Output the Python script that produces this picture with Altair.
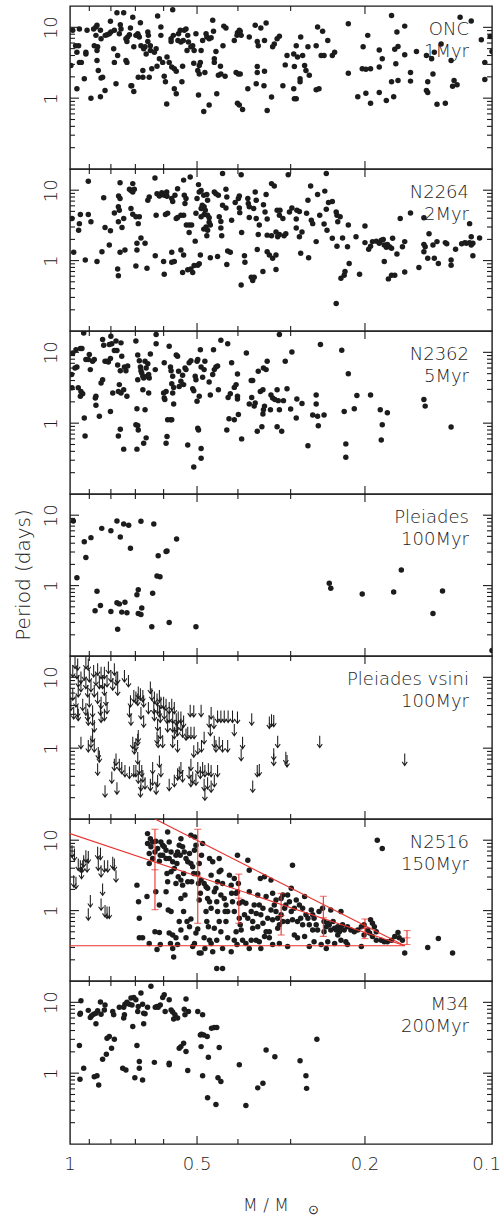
import altair as alt
import pandas as pd

# Rotation period (days) against stellar mass (solar masses), one list per cluster.
onc = [
    (0.995, 2.89), (0.985, 9.1), (0.95, 9.5), (0.97, 5.5), (0.954, 5.5), (0.963, 4.45), (0.95, 3.2), (0.94, 3.2),
    (0.963, 1.36), (0.925, 1.88), (0.917, 4.45), (0.917, 4.2), (0.911, 9.1), (0.892, 1.0), (0.879, 9.5), (0.876, 5.5),
    (0.868, 10.1), (0.868, 7.7), (0.863, 10.7), (0.86, 5.3), (0.863, 4.7), (0.863, 3.4), (0.857, 2.45), (0.847, 9.1),
    (0.844, 6.9), (0.844, 1.92), (0.837, 1.98), (0.847, 1.05), (0.826, 1.28), (0.825, 7.7), (0.817, 7.85), (0.807, 8.1),
    (0.802, 12.2), (0.8, 8.6), (0.785, 9.1), (0.788, 4.97), (0.785, 3.2), (0.778, 1.6), (0.774, 16.1), (0.771, 4.0),
    (0.764, 8.1), (0.76, 10.9), (0.757, 9.5), (0.746, 16.1), (0.737, 6.9), (0.737, 3.4), (0.733, 3.2), (0.733, 6.3),
    (0.73, 7.3), (0.723, 7.85), (0.719, 9.8), (0.717, 1.5), (0.714, 1.5), (0.71, 13.9), (0.706, 1.24), (0.706, 5.3),
    (0.698, 7.7), (0.691, 8.1), (0.689, 7.7), (0.685, 7.3), (0.689, 1.98), (0.681, 11.6), (0.679, 5.5), (0.672, 2.45),
    (0.672, 1.98), (0.669, 4.97), (0.664, 5.3), (0.66, 4.2), (0.654, 8.6), (0.652, 7.7), (0.654, 6.3), (0.649, 1.98),
    (0.645, 5.5), (0.645, 4.7), (0.64, 2.6), (0.631, 4.45), (0.625, 4.97), (0.622, 2.83), (0.62, 14.4), (0.614, 3.6),
    (0.609, 10.1), (0.609, 7.7), (0.603, 3.2), (0.598, 2.04), (0.594, 1.7), (0.59, 0.83), (0.589, 3.8), (0.582, 3.2),
    (0.576, 6.9), (0.576, 6.3), (0.574, 2.75), (0.571, 17.7), (0.569, 7.7), (0.566, 2.6), (0.566, 1.36), (0.56, 1.15),
    (0.56, 2.4), (0.555, 6.5), (0.553, 8.1), (0.548, 9.1), (0.546, 6.2), (0.541, 2.83), (0.543, 1.7), (0.539, 6.5),
    (0.536, 9.1), (0.531, 9.5), (0.526, 7.7), (0.524, 6.2), (0.528, 4.7), (0.517, 5.3), (0.512, 5.5), (0.509, 3.1),
    (0.508, 4.7), (0.503, 8.1), (0.498, 2.45), (0.496, 1.11), (0.494, 2.2), (0.494, 2.9), (0.491, 3.2), (0.489, 4.7),
    (0.485, 6.5), (0.482, 0.65), (0.479, 2.3), (0.476, 8.1), (0.474, 7.3), (0.468, 6.9), (0.468, 0.8), (0.463, 7.1),
    (0.459, 12.6), (0.457, 8.8), (0.455, 3.2), (0.455, 3.6), (0.451, 4.55), (0.449, 1.15), (0.445, 2.1), (0.44, 2.83),
    (0.439, 2.2), (0.434, 5.5), (0.432, 10.4), (0.429, 2.04), (0.427, 9.8), (0.408, 6.5), (0.404, 2.3), (0.402, 7.7),
    (0.401, 8.4), (0.399, 2.2), (0.397, 9.1), (0.395, 2.2), (0.401, 0.85), (0.397, 0.8), (0.395, 8.8), (0.393, 7.7),
    (0.39, 0.69), (0.379, 1.36), (0.376, 7.3),
    (0.364, 10.7), (0.353, 9.8), (0.343, 11.5), (0.346, 6.5), (0.36, 6.3), (0.358, 5.5), (0.36, 2.8), (0.36, 2.3),
    (0.362, 1.6), (0.346, 2.4), (0.347, 1.5), (0.333, 1.04), (0.341, 0.67), (0.331, 5.3), (0.328, 5.8), (0.323, 6.9),
    (0.319, 7.5), (0.313, 1.5), (0.309, 2.95), (0.306, 4.0), (0.295, 4.2), (0.291, 5.5), (0.289, 3.8), (0.284, 7.3),
    (0.281, 4.0), (0.278, 2.9), (0.276, 2.45), (0.285, 1.88), (0.285, 1.7), (0.294, 2.8), (0.295, 1.36), (0.294, 0.98),
    (0.291, 0.98), (0.271, 2.1), (0.273, 5.3), (0.261, 5.5), (0.259, 10.1), (0.254, 4.0), (0.252, 8.8), (0.25, 4.0),
    (0.245, 6.5), (0.239, 4.0), (0.236, 4.45), (0.261, 1.31), (0.257, 1.36), (0.219, 11.2), (0.219, 2.25), (0.208, 1.05),
    (0.199, 1.17), (0.194, 0.85), (0.202, 5.3), (0.197, 7.7), (0.203, 2.6), (0.199, 2.55), (0.194, 2.6), (0.185, 2.75),
    (0.185, 1.2), (0.185, 4.8), (0.182, 3.6), (0.178, 0.93), (0.173, 14.7), (0.168, 8.6), (0.167, 5.35), (0.17, 4.9),
    (0.169, 3.05), (0.173, 1.7), (0.167, 1.78), (0.171, 1.05), (0.161, 10.4), (0.161, 4.1), (0.156, 2.3), (0.156, 1.74),
    (0.151, 4.55), (0.143, 4.0), (0.142, 1.7), (0.143, 1.28), (0.142, 1.2), (0.138, 2.2), (0.139, 3.6), (0.137, 4.45),
    (0.135, 0.82), (0.129, 0.85), (0.132, 5.8), (0.125, 3.4), (0.123, 1.78), (0.124, 1.47), (0.121, 1.55), (0.119, 13.9),
    (0.112, 12.3), (0.106, 6.7), (0.104, 3.2), (0.104, 1.83), (0.101, 7.4), (0.1, 4.55),
]

n2264 = [
    (0.989, 3.95), (0.98, 1.31), (0.945, 4.5), (0.95, 3.35), (0.954, 2.7), (0.905, 13.4), (0.905, 4.5), (0.892, 3.55),
    (0.92, 1.02), (0.863, 0.97), (0.84, 1.34), (0.832, 7.8), (0.826, 2.95), (0.807, 1.66), (0.802, 2.65), (0.785, 4.75),
    (0.768, 5.8), (0.761, 12.8), (0.767, 8.3), (0.761, 7.6), (0.764, 5.2), (0.768, 3.55), (0.746, 3.95), (0.753, 2.95),
    (0.761, 1.31), (0.741, 1.41), (0.771, 0.76), (0.768, 0.61), (0.723, 10.3), (0.717, 9.9), (0.71, 12.4), (0.704, 10.3),
    (0.71, 9.4), (0.717, 5.5), (0.71, 4.55), (0.698, 4.2), (0.685, 4.2), (0.689, 3.35), (0.694, 1.41), (0.694, 1.76),
    (0.679, 2.1), (0.664, 1.76), (0.698, 0.84), (0.657, 0.78), (0.654, 7.2), (0.649, 8.0), (0.629, 14.9), (0.622, 8.9),
    (0.625, 4.4), (0.628, 1.17), (0.614, 8.3), (0.606, 9.2), (0.6, 8.9), (0.598, 8.5), (0.59, 9.4), (0.589, 8.2),
    (0.594, 4.5), (0.587, 4.7), (0.6, 0.97), (0.598, 0.64), (0.574, 7.6), (0.571, 6.9), (0.574, 1.31), (0.574, 0.95),
    (0.566, 0.97), (0.564, 8.5), (0.556, 10.5), (0.56, 3.95), (0.556, 4.1), (0.546, 1.41), (0.538, 13.9), (0.546, 4.4),
    (0.538, 4.4), (0.536, 8.5), (0.538, 1.2), (0.541, 0.68), (0.534, 6.45), (0.531, 7.6), (0.53, 3.2), (0.519, 15.4),
    (0.522, 3.2), (0.515, 3.2), (0.522, 2.5), (0.526, 0.74), (0.517, 0.76), (0.512, 0.68), (0.508, 0.85), (0.498, 0.86),
    (0.494, 0.9), (0.491, 1.2), (0.505, 1.89), (0.503, 4.7), (0.5, 7.6), (0.496, 12.0), (0.494, 9.4), (0.489, 9.9),
    (0.482, 8.5), (0.486, 6.1), (0.489, 5.5), (0.481, 5.8), (0.478, 5.2), (0.481, 4.5), (0.489, 4.2), (0.474, 8.7),
    (0.472, 7.2), (0.472, 4.4), (0.468, 4.05), (0.468, 3.5), (0.476, 3.0), (0.482, 2.8), (0.474, 2.25), (0.472, 2.7),
    (0.465, 3.2), (0.465, 1.1), (0.455, 9.4), (0.451, 8.9), (0.445, 8.5), (0.447, 1.14), (0.443, 4.2), (0.439, 3.6),
    (0.439, 2.9), (0.437, 2.25), (0.435, 17.2), (0.435, 6.1), (0.427, 10.3), (0.425, 8.0), (0.427, 5.6), (0.423, 1.37),
    (0.417, 1.31), (0.425, 0.88), (0.414, 3.75), (0.406, 6.7), (0.399, 7.6), (0.397, 8.3), (0.397, 5.6), (0.396, 4.8),
    (0.393, 16.6), (0.392, 2.5), (0.393, 0.45), (0.386, 1.17), (0.385, 0.95), (0.379, 7.6), (0.378, 6.45), (0.376, 5.8),
    (0.376, 4.1), (0.372, 0.58),
    (0.364, 9.4), (0.362, 7.2), (0.367, 5.5), (0.362, 3.95), (0.356, 3.2), (0.358, 2.35), (0.366, 0.58), (0.369, 0.52),
    (0.349, 0.7), (0.348, 6.2), (0.345, 4.9), (0.341, 3.9), (0.343, 8.7), (0.341, 2.3), (0.36, 1.44), (0.341, 1.34),
    (0.337, 1.2), (0.331, 1.08), (0.325, 1.2), (0.333, 2.25), (0.325, 2.55), (0.322, 2.18), (0.319, 2.35), (0.311, 2.25),
    (0.308, 2.4), (0.323, 5.2), (0.318, 5.2), (0.319, 4.4), (0.313, 3.95), (0.325, 0.75), (0.333, 12.4), (0.328, 11.5),
    (0.304, 16.6), (0.302, 4.9), (0.298, 5.6), (0.29, 5.2), (0.291, 3.9), (0.286, 5.0), (0.286, 2.18), (0.282, 2.55),
    (0.291, 2.9), (0.284, 1.27), (0.275, 4.7), (0.272, 1.1), (0.269, 11.5), (0.273, 7.2), (0.268, 3.75), (0.266, 3.35),
    (0.261, 1.86), (0.256, 4.4), (0.259, 8.7), (0.25, 3.3), (0.249, 9.7), (0.247, 17.2), (0.246, 2.7), (0.247, 5.35),
    (0.244, 6.7), (0.239, 6.9), (0.239, 2.07), (0.234, 4.9), (0.233, 4.4), (0.232, 3.55), (0.233, 1.6), (0.229, 4.2),
    (0.228, 0.56), (0.223, 0.7), (0.224, 0.62), (0.226, 2.1), (0.219, 3.2), (0.22, 1.57), (0.218, 0.91), (0.21, 2.18),
    (0.206, 0.64), (0.2, 3.1), (0.2, 1.8), (0.196, 1.45), (0.194, 1.6), (0.192, 1.86), (0.188, 1.89), (0.185, 1.76),
    (0.183, 1.95), (0.181, 2.0), (0.18, 1.66), (0.178, 1.55), (0.177, 1.7), (0.175, 1.57), (0.172, 2.07), (0.173, 1.5),
    (0.18, 0.97), (0.176, 0.55), (0.173, 0.62), (0.17, 0.62), (0.168, 1.24), (0.165, 3.95), (0.163, 1.57), (0.161, 1.86),
    (0.161, 0.69), (0.156, 4.75), (0.149, 0.8), (0.145, 4.05), (0.145, 1.7), (0.144, 1.57), (0.145, 1.34), (0.142, 1.08),
    (0.141, 2.4), (0.138, 1.66), (0.137, 1.08), (0.135, 1.86), (0.134, 0.91), (0.129, 1.8), (0.128, 1.73), (0.125, 1.02),
    (0.125, 0.86), (0.122, 1.45), (0.118, 1.73), (0.116, 1.8), (0.115, 1.76), (0.113, 1.8), (0.112, 1.66), (0.111, 1.76),
    (0.113, 3.35), (0.112, 2.18), (0.111, 1.17), (0.107, 2.1), (0.234, 0.245),
]

n2362 = [
    (0.991, 4.85), (0.989, 3.15), (0.985, 9.8), (0.968, 10.9), (0.963, 6.2), (0.973, 6.0), (0.956, 3.15), (0.945, 11.3),
    (0.937, 11.3), (0.942, 2.8), (0.945, 2.4), (0.933, 2.6), (0.925, 1.18), (0.921, 0.66), (0.928, 18.8), (0.917, 7.9),
    (0.905, 7.9), (0.9, 9.3), (0.895, 5.7), (0.884, 7.5), (0.876, 7.9), (0.871, 2.27), (0.868, 2.4), (0.868, 1.79),
    (0.852, 1.25), (0.844, 3.7), (0.837, 4.1), (0.837, 15.2), (0.832, 12.6), (0.826, 7.5), (0.817, 7.5), (0.811, 7.3),
    (0.807, 12.9), (0.8, 16.9), (0.802, 8.2), (0.792, 2.66), (0.796, 13.2), (0.785, 10.6), (0.778, 14.4), (0.774, 10.6),
    (0.771, 6.6), (0.768, 2.8), (0.764, 3.5), (0.76, 5.5), (0.757, 13.6), (0.757, 2.66), (0.754, 8.8), (0.746, 2.96),
    (0.743, 6.2), (0.737, 5.5), (0.733, 2.4), (0.73, 6.4), (0.768, 0.66), (0.76, 0.82), (0.746, 0.43), (0.802, 1.46),
    (0.698, 14.4), (0.691, 9.2), (0.691, 4.1), (0.685, 7.6), (0.681, 6.2), (0.679, 5.5), (0.676, 5.1), (0.672, 2.96),
    (0.672, 4.6), (0.669, 4.35), (0.664, 7.5), (0.66, 6.0), (0.657, 4.6), (0.654, 6.9), (0.651, 4.85), (0.649, 4.35),
    (0.645, 9.5), (0.651, 2.66), (0.625, 17.9), (0.625, 13.2), (0.628, 5.7), (0.694, 1.6), (0.664, 1.55), (0.698, 0.95),
    (0.691, 0.93), (0.689, 0.8), (0.694, 0.43), (0.669, 0.52), (0.66, 0.62), (0.598, 7.1), (0.6, 2.66), (0.598, 2.27),
    (0.596, 2.15), (0.592, 2.8), (0.592, 0.52), (0.589, 0.65), (0.587, 1.12), (0.578, 1.12), (0.574, 1.12), (0.582, 12.2),
    (0.578, 6.2), (0.576, 5.5), (0.574, 3.6), (0.571, 4.6), (0.571, 2.66), (0.568, 1.87), (0.568, 3.2), (0.56, 9.2),
    (0.556, 8.8), (0.553, 5.4), (0.546, 3.9), (0.551, 3.3), (0.541, 4.75), (0.538, 3.5), (0.534, 6.0), (0.531, 5.7),
    (0.526, 0.49), (0.522, 7.1), (0.517, 7.6), (0.512, 3.05), (0.509, 2.87), (0.505, 4.6), (0.503, 4.1), (0.5, 7.5),
    (0.498, 7.9), (0.5, 2.04), (0.498, 0.85), (0.496, 0.8), (0.494, 2.4), (0.491, 10.9), (0.489, 6.2), (0.489, 0.44),
    (0.489, 0.32), (0.509, 0.24), (0.485, 4.45), (0.481, 5.7), (0.479, 7.5), (0.468, 3.8), (0.465, 2.5), (0.459, 4.85),
    (0.455, 5.7), (0.451, 6.2), (0.447, 6.4), (0.457, 10.9), (0.445, 2.96), (0.439, 14.8), (0.425, 0.8), (0.423, 13.2),
    (0.422, 2.3), (0.42, 1.15), (0.417, 2.6), (0.414, 7.1), (0.408, 1.12), (0.408, 3.2), (0.404, 3.5), (0.401, 4.95),
    (0.401, 2.4), (0.401, 2.2), (0.399, 1.33), (0.392, 0.6), (0.382, 9.8), (0.376, 1.87), (0.372, 4.0), (0.371, 2.3),
    (0.369, 4.0), (0.364, 1.93), (0.366, 1.74), (0.36, 0.77), (0.351, 0.89), (0.358, 5.4), (0.348, 6.0), (0.341, 7.5),
    (0.343, 5.7), (0.354, 2.8), (0.349, 2.96), (0.334, 2.5), (0.331, 2.27), (0.327, 2.15), (0.323, 2.96), (0.321, 2.08),
    (0.319, 1.55), (0.312, 2.08), (0.346, 1.74), (0.348, 1.55), (0.349, 1.35), (0.335, 1.55), (0.323, 0.89), (0.315, 0.77),
    (0.319, 17.9), (0.309, 7.5), (0.306, 3.05), (0.298, 10.1), (0.3, 1.58), (0.291, 1.18), (0.29, 2.2), (0.282, 1.89),
    (0.273, 0.48), (0.266, 1.3), (0.261, 2.5), (0.261, 1.87), (0.259, 1.25), (0.258, 0.92), (0.255, 12.9), (0.25, 1.3),
    (0.227, 10.7), (0.224, 1.46), (0.222, 0.51), (0.222, 0.33), (0.219, 5.0), (0.212, 1.6), (0.209, 2.45), (0.194, 2.5),
    (0.184, 1.55), (0.182, 0.95), (0.183, 0.58), (0.177, 1.4), (0.145, 2.15), (0.144, 1.74), (0.125, 0.88),
]

pleiades = [
    (0.982, 8.3), (0.963, 1.29), (0.925, 4.2), (0.917, 2.5), (0.892, 4.8), (0.872, 0.44), (0.863, 0.83), (0.847, 0.52),
    (0.841, 6.5), (0.8, 6.0), (0.8, 0.43), (0.774, 8.3), (0.771, 0.24), (0.774, 0.57), (0.764, 0.55), (0.76, 4.9),
    (0.754, 0.42), (0.746, 7.5), (0.741, 0.58), (0.733, 0.41), (0.726, 7.2), (0.719, 3.4), (0.694, 0.74), (0.689, 0.87),
    (0.689, 0.4), (0.679, 0.39), (0.676, 0.48), (0.679, 8.2), (0.64, 0.26), (0.637, 0.78), (0.633, 7.5), (0.622, 1.37),
    (0.618, 2.65), (0.612, 1.34), (0.592, 3.05), (0.589, 3.1), (0.582, 0.3), (0.559, 4.6), (0.503, 0.26), (0.243, 1.08),
    (0.241, 0.92), (0.203, 0.76), (0.171, 0.81), (0.164, 1.66), (0.138, 0.4), (0.131, 0.84), (0.1, 0.12),
]

# Upper limits on the period from v sin i
pleiades_vsini = [
    (0.973, 19.6), (0.959, 18.5), (0.917, 19.5), (0.905, 18.5), (0.985, 14.9), (0.963, 14.1), (0.942, 12.1), (0.925, 13.4),
    (0.9, 12.7), (0.879, 14.9), (0.86, 15.8), (0.844, 14.1), (0.829, 14.1), (0.811, 16.7), (0.8, 12.7), (0.785, 15.8),
    (0.778, 11.4), (0.852, 10.2), (0.892, 9.2), (0.942, 9.2), (0.956, 10.8), (0.917, 10.2), (0.868, 11.4), (0.837, 10.2),
    (0.817, 10.8), (0.792, 9.7), (0.771, 12.1), (0.743, 12.7), (0.727, 10.8), (0.771, 8.2), (0.829, 8.2), (0.876, 7.8),
    (0.908, 7.8), (0.956, 7.8), (0.985, 7.0), (0.968, 5.6), (0.933, 5.0), (0.995, 5.0), (0.9, 5.6), (0.86, 6.3),
    (0.844, 5.3), (0.822, 5.9), (0.817, 4.5), (0.847, 4.3), (0.884, 4.05), (0.917, 4.3), (0.959, 4.05), (0.98, 3.8),
    (0.905, 3.1), (0.884, 3.1), (0.876, 2.5), (0.719, 5.6), (0.706, 6.6), (0.698, 6.3), (0.689, 7.4), (0.681, 7.0),
    (0.672, 6.6), (0.691, 5.9), (0.669, 5.6), (0.723, 4.05), (0.717, 3.1), (0.679, 3.8), (0.669, 2.9), (0.645, 8.7),
    (0.64, 7.0), (0.631, 6.3), (0.622, 5.9), (0.614, 6.6), (0.609, 5.3), (0.6, 5.3), (0.592, 5.0), (0.582, 4.5),
    (0.574, 5.0), (0.566, 4.5), (0.652, 4.5), (0.633, 4.5), (0.62, 4.5), (0.614, 4.05), (0.611, 3.4), (0.598, 3.8),
    (0.589, 3.3), (0.582, 3.4), (0.571, 3.3), (0.56, 3.1), (0.554, 3.3), (0.546, 3.3), (0.538, 2.9), (0.62, 2.6),
    (0.611, 2.0), (0.618, 1.5), (0.622, 1.7), (0.603, 1.5), (0.566, 2.0), (0.571, 1.5), (0.556, 1.3), (0.541, 2.1),
    (0.531, 1.9), (0.526, 2.0), (0.517, 2.0), (0.508, 2.0), (0.519, 4.1), (0.509, 4.05), (0.489, 4.1), (0.463, 3.8),
    (0.447, 3.4), (0.439, 3.4), (0.431, 3.4), (0.422, 3.4), (0.412, 3.4), (0.401, 3.3), (0.468, 2.9), (0.456, 2.8),
    (0.465, 2.2), (0.455, 1.5), (0.451, 1.3), (0.443, 1.45), (0.435, 1.3), (0.423, 1.3), (0.408, 2.2), (0.39, 1.45),
    (0.393, 0.98), (0.481, 1.7), (0.488, 1.3), (0.498, 1.22), (0.509, 1.1), (0.517, 0.71), (0.522, 0.55), (0.512, 0.47),
    (0.498, 0.64), (0.491, 0.55), (0.485, 0.64), (0.479, 0.58), (0.47, 0.61), (0.463, 0.58), (0.447, 0.58), (0.455, 0.42),
    (0.472, 0.39), (0.479, 0.27), (0.463, 0.35), (0.481, 0.37), (0.503, 0.44), (0.517, 0.42), (0.546, 0.64), (0.551, 0.55),
    (0.556, 0.52), (0.541, 0.49), (0.566, 0.42), (0.582, 0.37), (0.614, 0.79), (0.609, 0.58), (0.62, 0.42), (0.625, 0.33),
    (0.637, 0.64), (0.637, 0.44), (0.645, 0.37), (0.664, 0.39), (0.672, 0.49), (0.676, 0.58), (0.685, 0.64), (0.691, 0.88),
    (0.698, 0.58), (0.689, 0.47), (0.679, 0.37), (0.681, 0.30), (0.706, 0.58), (0.723, 0.55), (0.741, 0.58), (0.754, 0.64),
    (0.764, 0.71), (0.778, 0.84), (0.785, 0.71), (0.796, 0.47), (0.774, 0.33), (0.826, 0.30), (0.86, 0.61), (0.876, 1.3),
    (0.857, 1.04), (0.852, 0.93), (0.905, 1.3), (0.942, 1.45), (0.884, 1.8), (0.892, 1.5), (0.704, 1.22), (0.698, 1.37),
    (0.691, 1.6), (0.689, 1.8), (0.71, 1.45), (0.956, 3.6), (0.908, 3.6), (0.844, 3.4), (0.829, 3.6), (0.631, 3.6),
    (0.587, 2.5), (0.571, 2.5), (0.56, 2.5), (0.546, 2.6), (0.556, 2.2),
    (0.371, 3.1), (0.337, 2.8), (0.333, 3.0), (0.329, 2.95), (0.322, 1.5), (0.329, 1.0), (0.329, 0.84), (0.308, 0.89),
    (0.306, 0.8), (0.36, 0.58), (0.356, 0.6), (0.369, 0.35), (0.256, 1.5), (0.161, 0.84),
]

n2516 = [
    (0.694, 2.3), (0.688, 1.34), (0.685, 0.78), (0.657, 1.58), (0.685, 0.41), (0.673, 0.41), (0.649, 0.34), (0.622, 0.28),
    (0.655, 12.4), (0.645, 10.5), (0.637, 9.45), (0.655, 8.95), (0.643, 8.04), (0.649, 6.46), (0.637, 5.5), (0.649, 4.67),
    (0.629, 6.8), (0.626, 1.85), (0.614, 1.2), (0.629, 0.5), (0.614, 0.49), (0.611, 0.33), (0.626, 9.66), (0.62, 7.6),
    (0.611, 6.12), (0.614, 5.04), (0.609, 9.45), (0.603, 8.48), (0.598, 8.04), (0.592, 7.2), (0.587, 13.1), (0.582, 9.45),
    (0.576, 6.8), (0.603, 6.12), (0.592, 5.5), (0.582, 5.5), (0.571, 4.93), (0.589, 3.37), (0.576, 3.56), (0.566, 3.96),
    (0.587, 2.57), (0.592, 1.85), (0.585, 1.02), (0.576, 0.97), (0.582, 0.48), (0.571, 0.45), (0.578, 0.34), (0.571, 0.29),
    (0.568, 0.22), (0.561, 0.41), (0.556, 0.33), (0.561, 6.12), (0.556, 6.8), (0.551, 8.48), (0.546, 10.5), (0.548, 6.12),
    (0.558, 4.67), (0.554, 3.02), (0.546, 2.71), (0.561, 2.43), (0.538, 3.37), (0.541, 2.3), (0.546, 1.49), (0.551, 0.7),
    (0.546, 0.53), (0.541, 8.04), (0.536, 6.8), (0.531, 5.5), (0.526, 4.93), (0.521, 6.46), (0.517, 11.8), (0.517, 4.67),
    (0.512, 4.19), (0.507, 7.2), (0.503, 8.48), (0.509, 3.37), (0.515, 2.57), (0.526, 2.57), (0.534, 1.66), (0.538, 0.97),
    (0.528, 0.7), (0.531, 0.41), (0.521, 0.59), (0.517, 0.76), (0.512, 0.31), (0.507, 0.34), (0.503, 0.48), (0.498, 0.55),
    (0.494, 0.25), (0.489, 0.25), (0.494, 1.41), (0.491, 1.76), (0.496, 2.43), (0.498, 3.37), (0.494, 4.67), (0.506, 11.1),
    (0.488, 6.12), (0.485, 8.95), (0.481, 2.43), (0.476, 2.18), (0.472, 2.07), (0.472, 1.49), (0.467, 1.34), (0.463, 3.19),
    (0.463, 1.08), (0.476, 0.97), (0.474, 0.7), (0.47, 0.59), (0.467, 0.38), (0.463, 0.34), (0.481, 0.41), (0.455, 0.56),
    (0.455, 1.85), (0.451, 2.07), (0.447, 2.57), (0.443, 3.56), (0.439, 3.75), (0.459, 4.93), (0.443, 5.5), (0.439, 1.66),
    (0.449, 1.34), (0.447, 0.97), (0.443, 0.7), (0.439, 0.5), (0.449, 0.38), (0.435, 0.29), (0.449, 0.15), (0.435, 0.15),
    (0.459, 0.26), (0.479, 0.29), (0.467, 5.5), (0.489, 2.71), (0.435, 2.43), (0.431, 1.49), (0.427, 1.2), (0.423, 0.97),
    (0.429, 0.97), (0.419, 3.19), (0.415, 2.3), (0.414, 1.76), (0.412, 1.34), (0.408, 0.97), (0.404, 1.76), (0.401, 6.12),
    (0.408, 2.86), (0.401, 1.85), (0.397, 1.27), (0.399, 2.43), (0.397, 0.78), (0.395, 0.63), (0.404, 0.5), (0.408, 0.38),
    (0.402, 0.33), (0.423, 0.41), (0.415, 0.26), (0.427, 0.7), (0.393, 0.53), (0.39, 1.34), (0.386, 0.87), (0.383, 1.27),
    (0.379, 5.2), (0.376, 3.75), (0.376, 1.85), (0.379, 0.78), (0.372, 0.97), (0.369, 0.7), (0.366, 1.2), (0.362, 0.91),
    (0.359, 1.66), (0.356, 1.2), (0.353, 0.87), (0.349, 1.08), (0.354, 2.86), (0.346, 3.02), (0.343, 1.58), (0.34, 0.78),
    (0.356, 0.36), (0.362, 0.38), (0.372, 0.38), (0.376, 0.29), (0.353, 0.29), (0.343, 0.5), (0.334, 2.71), (0.39, 0.38),
    (0.383, 0.34), (0.369, 0.56), (0.359, 0.59), (0.349, 0.66), (0.346, 0.43), (0.337, 0.5), (0.331, 1.76), (0.328, 1.2),
    (0.325, 0.97), (0.322, 0.78), (0.319, 0.63), (0.316, 1.49), (0.313, 1.66), (0.31, 1.08), (0.308, 1.2), (0.305, 1.66),
    (0.302, 1.34), (0.299, 0.97), (0.313, 0.7), (0.322, 0.56), (0.316, 0.87), (0.331, 0.74), (0.334, 1.02), (0.325, 1.41),
    (0.305, 0.7), (0.297, 0.74), (0.294, 0.45), (0.305, 0.31), (0.319, 0.34), (0.297, 4.42), (0.294, 1.08), (0.299, 2.07),
    (0.337, 0.41), (0.331, 0.33), (0.291, 1.41), (0.286, 1.2), (0.281, 1.08), (0.278, 1.58), (0.276, 0.87), (0.273, 0.78),
    (0.268, 1.02), (0.266, 0.87), (0.289, 0.7), (0.284, 0.78), (0.271, 0.63), (0.264, 0.78), (0.261, 0.63), (0.259, 0.53),
    (0.257, 0.97), (0.289, 0.41), (0.278, 0.43), (0.271, 0.31), (0.254, 0.33), (0.264, 0.36), (0.266, 0.53), (0.281, 0.63),
    (0.252, 1.08), (0.25, 0.7), (0.247, 0.59), (0.245, 0.66), (0.243, 0.63), (0.241, 0.53), (0.238, 0.7), (0.236, 0.56),
    (0.234, 0.53), (0.232, 0.59), (0.23, 0.5), (0.228, 0.56), (0.226, 0.63), (0.228, 0.97), (0.241, 1.02), (0.25, 0.5),
    (0.245, 0.36), (0.236, 0.34), (0.228, 0.38), (0.222, 0.36), (0.22, 0.33), (0.247, 0.29), (0.232, 0.45), (0.224, 0.53),
    (0.22, 0.59), (0.216, 0.53), (0.212, 0.5), (0.208, 0.53), (0.204, 0.59), (0.201, 0.63), (0.197, 0.53), (0.194, 0.74),
    (0.192, 0.66), (0.19, 0.59), (0.195, 0.48), (0.192, 0.43), (0.204, 0.31), (0.201, 0.45), (0.188, 0.38), (0.187, 9.98),
    (0.182, 7.6), (0.188, 0.5), (0.183, 0.38), (0.18, 0.36), (0.177, 0.36), (0.173, 0.38), (0.17, 0.43), (0.167, 0.49),
    (0.166, 0.41), (0.163, 0.38), (0.161, 0.25), (0.142, 0.3), (0.134, 0.4), (0.124, 0.25),
]

# Upper limits on the period for the brightest N2516 members
n2516_limits = [
    (0.989, 8.48), (0.976, 7.6), (0.98, 3.19), (0.968, 3.02), (0.956, 5.5), (0.945, 5.2), (0.933, 5.2), (0.928, 6.12),
    (0.917, 7.2), (0.905, 7.0), (0.911, 5.2), (0.939, 4.19), (0.86, 8.04), (0.847, 7.8), (0.857, 5.5), (0.844, 4.42),
    (0.829, 5.2), (0.814, 5.2), (0.792, 5.8), (0.785, 5.5), (0.778, 3.75), (0.895, 1.66), (0.905, 1.08), (0.837, 2.43),
    (0.844, 1.49), (0.826, 1.2), (0.817, 1.14), (0.807, 1.14),
]

# Straight (log-log) envelopes through the N2516 distribution
fit_upper = [(0.629, 20.0), (0.161, 0.316)]
fit_middle = [(1.0, 12.4), (0.161, 0.316)]
fit_floor = [(1.0, 0.316), (0.161, 0.316)]

# Binned spread of the N2516 periods
bin_mass = [0.629, 0.498, 0.398, 0.316, 0.251, 0.2, 0.159]
bin_low = [1.03, 0.66, 0.66, 0.45, 0.43, 0.4, 0.33]
bin_mid = [3.8, 3.1, 1.5, 0.85, 0.79, 0.56, 0.41]
bin_high = [14.3, 14.3, 3.3, 1.76, 1.6, 0.76, 0.52]

m34 = [
    (0.95, 2.45), (0.947, 6.8), (0.945, 7.0), (0.942, 10.5), (0.947, 0.82), (0.928, 1.17), (0.905, 7.7), (0.895, 6.1),
    (0.889, 6.45), (0.879, 6.8), (0.868, 7.0), (0.868, 5.0), (0.86, 7.6), (0.847, 10.1), (0.844, 6.8), (0.855, 0.68),
    (0.876, 0.89), (0.863, 0.92), (0.837, 1.57), (0.829, 7.8), (0.826, 9.2), (0.82, 1.85), (0.817, 3.11), (0.807, 3.29),
    (0.797, 2.25), (0.792, 7.4), (0.788, 6.7), (0.785, 3.02), (0.764, 8.5), (0.75, 1.17), (0.746, 8.5), (0.743, 6.7),
    (0.746, 6.0), (0.741, 9.4), (0.737, 1.11), (0.733, 10.0), (0.723, 9.4), (0.717, 11.5), (0.713, 9.2), (0.71, 4.56),
    (0.706, 11.7), (0.702, 0.86), (0.698, 10.9), (0.694, 2.45), (0.691, 7.4), (0.689, 8.7), (0.685, 1.46), (0.685, 1.17),
    (0.679, 13.5), (0.673, 9.4), (0.669, 7.0), (0.673, 0.8), (0.664, 6.9), (0.655, 8.5), (0.669, 5.0), (0.643, 16.8),
    (0.631, 1.42), (0.628, 8.5), (0.622, 8.7), (0.618, 8.5), (0.611, 9.2), (0.603, 11.7), (0.598, 12.8), (0.595, 7.4),
    (0.582, 1.38), (0.582, 1.31), (0.576, 7.8), (0.582, 10.9), (0.571, 7.3), (0.568, 5.8), (0.564, 6.7), (0.556, 6.0),
    (0.551, 2.25), (0.546, 2.37), (0.538, 2.65), (0.531, 2.02), (0.536, 8.0), (0.534, 6.7), (0.531, 11.1), (0.524, 7.4),
    (0.526, 1.09), (0.498, 7.4), (0.491, 3.47), (0.488, 3.55), (0.489, 2.37), (0.485, 6.7), (0.482, 3.47), (0.485, 0.92),
    (0.473, 3.29), (0.47, 1.68), (0.472, 0.45), (0.462, 4.3), (0.455, 4.41), (0.449, 4.41), (0.451, 0.36), (0.446, 0.86),
    (0.443, 2.3), (0.439, 0.76), (0.397, 1.31), (0.383, 0.35), (0.359, 0.62), (0.349, 0.72), (0.343, 2.13), (0.327, 1.71),
    (0.285, 1.5), (0.276, 0.92), (0.275, 0.61), (0.26, 3.02),
]

cluster_names = ["ONC", "N2264", "N2362", "Pleiades", "Pleiades vsini", "N2516", "M34"]
cluster_ages = ["1Myr", "2Myr", "5Myr", "100Myr", "100Myr", "150Myr", "200Myr"]

x_major = [0.5, 0.2]
x_minor = [0.9, 0.8, 0.7, 0.6, 0.4, 0.3]
x_labels = [1.0, 0.5, 0.2, 0.1]
y_major = [1.0, 10.0]
y_minor = [0.2, 0.3, 0.4, 0.5, 0.6, 0.7, 0.8, 0.9, 2, 3, 4, 5, 6, 7, 8, 9]

# ---------------------------------------------------------------- styling
W = 422
HEIGHTS = [163, 162, 163, 162, 163, 162, 163]
FONT = "DejaVu Sans"
LIGHT = 200
INK = "#1c1c1c"
RED = "#e8322e"
ARROW = "M0,0L0,2M-0.42,1.4L0,2L0.42,1.4"

x_scale = alt.Scale(type="log", domain=[0.1, 1.0], reverse=True, nice=False)
y_scale = alt.Scale(type="log", domain=[0.1, 20.0], nice=False)

anchor = pd.DataFrame({"mass": [0.5], "period": [1.0]})


def X(axis=None):
    return alt.X("mass:Q", scale=x_scale, axis=axis)


def Y(field="period:Q", axis=None):
    return alt.Y(field, scale=y_scale, axis=axis)


def x_ticks(values, length, h):
    """Inward ticks on the top and bottom edges at the given masses."""
    df = pd.DataFrame({"mass": values})
    rule = alt.Chart(df).mark_rule(color=INK, strokeWidth=1.1)
    return [rule.encode(x=X(), y=alt.value(h), y2=alt.value(h - length)),
            rule.encode(x=X(), y=alt.value(0), y2=alt.value(length))]


def y_ticks(values, length):
    """Inward ticks on the left and right edges at the given periods."""
    df = pd.DataFrame({"period": values})
    rule = alt.Chart(df).mark_rule(color=INK, strokeWidth=1.1)
    return [rule.encode(y=Y(), x=alt.value(0), x2=alt.value(length)),
            rule.encode(y=Y(), x=alt.value(W), x2=alt.value(W - length))]


def mass_labels(h):
    """Mass tick labels under the bottom panel; the last one ends at the frame edge."""
    txt = dict(baseline="alphabetic", font=FONT, fontSize=18, fontWeight=LIGHT, color=INK)
    inner = pd.DataFrame({"mass": x_labels[:-1]})
    outer = pd.DataFrame({"mass": x_labels[-1:]})
    return [
        alt.Chart(inner).mark_text(align="center", **txt)
        .encode(x=X(), y=alt.value(h + 26), text=alt.Text("mass:Q", format="~g")),
        alt.Chart(outer).mark_text(align="right", dx=9, **txt)
        .encode(x=X(), y=alt.value(h + 26), text=alt.Text("mass:Q", format="~g")),
    ]


def panel(idx, points, limits=None, fits=False, last=False):
    h = HEIGHTS[idx]
    y_axis = alt.Axis(orient="left", values=y_major, ticks=False, tickSize=0, domain=False, grid=False,
                      title=None, format="~g", labelAngle=270, labelAlign="center",
                      labelBaseline="alphabetic", labelPadding=14, labelFlush=False, labelOverlap=False)

    layers = [alt.Chart(anchor).mark_point(opacity=0).encode(x=X(), y=Y(axis=y_axis))]
    layers += x_ticks(x_major, 8, h) + x_ticks(x_minor, 5, h)
    layers += y_ticks(y_major, 9) + y_ticks(y_minor, 5)

    if points:
        pts = pd.DataFrame(points, columns=["mass", "period"])
        layers.append(
            alt.Chart(pts).mark_circle(size=30, color=INK, opacity=1, clip=True)
            .encode(x=X(), y=Y()))

    if limits:
        lim = pd.DataFrame(limits, columns=["mass", "period"])
        layers.append(
            alt.Chart(lim).mark_point(shape=ARROW, size=144, filled=False, strokeWidth=1.05,
                                      color=INK, opacity=1, clip=True)
            .encode(x=X(), y=Y()))

    if fits:
        segs = pd.DataFrame(
            [(m, p, "upper") for m, p in fit_upper]
            + [(m, p, "middle") for m, p in fit_middle]
            + [(m, p, "floor") for m, p in fit_floor],
            columns=["mass", "period", "seg"])
        layers.append(
            alt.Chart(segs).mark_line(color=RED, strokeWidth=1.1, clip=True)
            .encode(x=X(), y=Y(), detail="seg:N"))
        bins = pd.DataFrame({"mass": bin_mass, "low": bin_low, "mid": bin_mid, "high": bin_high})
        layers.append(
            alt.Chart(bins).mark_rule(color=RED, strokeWidth=1.1)
            .encode(x=X(), y=Y("low:Q"), y2="high:Q"))
        layers.append(
            alt.Chart(bins).transform_fold(["low", "mid", "high"], as_=["edge", "period"])
            .mark_tick(color=RED, orient="horizontal", size=7, thickness=1.1)
            .encode(x=X(), y=Y()))

    label = alt.Chart(anchor).mark_text(align="right", baseline="alphabetic", font=FONT,
                                        fontSize=18, fontWeight=LIGHT, color=INK)
    layers.append(label.encode(x=alt.value(W - 23), y=alt.value(29), text=alt.value(cluster_names[idx])))
    layers.append(label.encode(x=alt.value(W - 23), y=alt.value(51), text=alt.value(cluster_ages[idx])))

    if idx == 3:
        layers.append(
            alt.Chart(anchor).mark_text(angle=270, align="center", baseline="alphabetic", font=FONT,
                                        fontSize=20, fontWeight=LIGHT, color=INK)
            .encode(x=alt.value(-40), y=alt.value(h / 2), text=alt.value("Period (days)")))

    if last:
        layers += mass_labels(h)
        layers.append(
            alt.Chart(anchor).mark_text(align="center", baseline="alphabetic", font=FONT,
                                        fontSize=17, fontWeight=LIGHT, color=INK)
            .encode(x=alt.value(196), y=alt.value(h + 67), text=alt.value("M / M")))
        layers.append(
            alt.Chart(anchor).mark_text(align="center", baseline="middle", font=FONT,
                                        fontSize=13, fontWeight=LIGHT, color=INK)
            .encode(x=alt.value(243), y=alt.value(h + 66), text=alt.value("⊙")))

    # each layer keeps its own axis so the label-only axis of the first layer survives
    return (alt.layer(*layers)
            .resolve_axis(x="independent", y="independent")
            .properties(width=W, height=h))


panels = [
    panel(0, onc),
    panel(1, n2264),
    panel(2, n2362),
    panel(3, pleiades),
    panel(4, None, limits=pleiades_vsini),
    panel(5, n2516, limits=n2516_limits, fits=True),
    panel(6, m34, last=True),
]

chart = (
    alt.vconcat(*panels, spacing=0, bounds="flush")
    .properties(padding={"left": 13, "top": 4, "right": 0, "bottom": 0}, background="white")
    .configure_view(stroke=INK, strokeWidth=1.4)
    .configure_axis(labelFont=FONT, labelFontSize=18, labelColor=INK, labelFontWeight=LIGHT)
)

chart.save("out.html", embed_options={"renderer": "svg", "actions": False})
